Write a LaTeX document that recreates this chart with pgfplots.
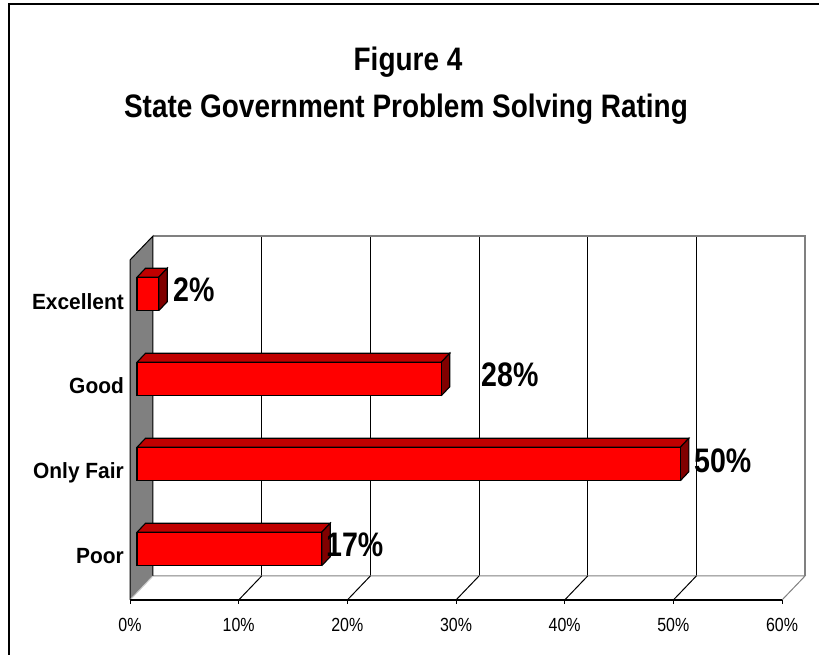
\documentclass[border=0pt]{standalone}
\usepackage{pgfplots}
\pgfplotsset{compat=1.18}
\usepackage{fontspec}
\setmainfont{Liberation Sans}
\newfontfamily\titlefont[FakeStretch=0.86]{Liberation Sans}
\newfontfamily\datafont[FakeStretch=0.84]{Liberation Sans}
\newfontfamily\tickfont[FakeStretch=0.84]{Liberation Sans}
\newfontfamily\catfont[FakeStretch=0.95]{Liberation Sans}
\definecolor{barfront}{RGB}{255,0,0}
\definecolor{bartop}{RGB}{192,0,0}
\definecolor{barside}{RGB}{128,0,0}
\definecolor{wallgray}{RGB}{128,128,128}
\begin{document}
\begin{tikzpicture}
\begin{axis}[
  at={(0,0)}, anchor=south west,
  scale only axis, width=819pt, height=655pt,
  xmin=-12.6073, xmax=62.7607, ymin=0, ymax=655,
  axis lines=none, clip=false,
]
% back wall
\fill[white] (axis cs:1.472,79) rectangle (axis cs:61.472,419);
\foreach \k in {1,...,5} {
  \edef\temp{\noexpand\draw[black, line width=1pt] (axis cs:1.472+\k*10,79) -- (axis cs:1.472+\k*10,419);}
  \temp
}
\draw[wallgray, line width=1.2pt] (axis cs:1.472,419) -- (axis cs:61.472,419) -- (axis cs:61.472,79);
% floor
\draw[wallgray, line width=1pt] (axis cs:1.472,79) -- (axis cs:61.472,79) -- (axis cs:59.356,55);
\foreach \k in {1,...,5} {
  \edef\temp{\noexpand\draw[black, line width=1pt] (axis cs:-0.644+\k*10,55) -- (axis cs:1.472+\k*10,79);}
  \temp
}
% left wall
\filldraw[fill=wallgray, draw=black, line width=1pt] (axis cs:-0.644,55) -- (axis cs:-0.644,395) -- (axis cs:1.472,419) -- (axis cs:1.472,79);
\draw[black!20, line width=1pt] (axis cs:-0.644,55) -- (axis cs:1.472,79);
% front axis line with ticks
\draw[black, line width=1.3pt] (axis cs:-0.644,55) -- (axis cs:59.356,55);
\foreach \k in {0,...,6} {
  \pgfmathtruncatemacro\lab{\k*10}
  \edef\temp{\noexpand\draw[black, line width=1pt] (axis cs:-0.644+\k*10,55) -- (axis cs:-0.644+\k*10,51);
  \noexpand\node[anchor=base, inner sep=0pt, font=\noexpand\tickfont\noexpand\fontsize{19}{22}\noexpand\selectfont] at (axis cs:-0.644+\k*10,23.3) {\lab\noexpand\%};}
  \temp
}
% bars: top faces
\addplot[fill=bartop, draw=black, line width=1.1pt] coordinates {(0,122.75) (17,122.75) (17.782,131.75) (0.782,131.75) (0,122.75)};
\addplot[fill=bartop, draw=black, line width=1.1pt] coordinates {(0,207.75) (50,207.75) (50.782,216.75) (0.782,216.75) (0,207.75)};
\addplot[fill=bartop, draw=black, line width=1.1pt] coordinates {(0,292.75) (28,292.75) (28.782,301.75) (0.782,301.75) (0,292.75)};
\addplot[fill=bartop, draw=black, line width=1.1pt] coordinates {(0,377.75) (2,377.75) (2.782,386.75) (0.782,386.75) (0,377.75)};
% bars: side faces
\addplot[fill=barside, draw=black, line width=1.1pt] coordinates {(17,89.25) (17,122.75) (17.782,131.75) (17.782,98.25) (17,89.25)};
\addplot[fill=barside, draw=black, line width=1.1pt] coordinates {(50,174.25) (50,207.75) (50.782,216.75) (50.782,183.25) (50,174.25)};
\addplot[fill=barside, draw=black, line width=1.1pt] coordinates {(28,259.25) (28,292.75) (28.782,301.75) (28.782,268.25) (28,259.25)};
\addplot[fill=barside, draw=black, line width=1.1pt] coordinates {(2,344.25) (2,377.75) (2.782,386.75) (2.782,353.25) (2,344.25)};
% bars: front faces
\addplot[xbar, bar width=33.5, fill=barfront, draw=black, line width=1.1pt] coordinates {(17,106) (50,191) (28,276) (2,361)};
% data labels
\node[anchor=base west, inner sep=0pt, font=\datafont\bfseries\fontsize{34}{40}\selectfont] at (axis cs:3.31,353.3) {2\%};
\node[anchor=base west, inner sep=0pt, font=\datafont\bfseries\fontsize{34}{40}\selectfont] at (axis cs:31.66,268.3) {28\%};
\node[anchor=base west, inner sep=0pt, font=\datafont\bfseries\fontsize{34}{40}\selectfont] at (axis cs:51.26,182.3) {50\%};
\node[anchor=base west, inner sep=0pt, font=\datafont\bfseries\fontsize{34}{40}\selectfont] at (axis cs:17.39,98.3) {17\%};
% category labels
\node[anchor=base east, inner sep=0pt, font=\catfont\bfseries\fontsize{22}{26}\selectfont] at (axis cs:-1.196,345.7) {Excellent};
\node[anchor=base east, inner sep=0pt, font=\catfont\bfseries\fontsize{22}{26}\selectfont] at (axis cs:-1.196,261) {Good};
\node[anchor=base east, inner sep=0pt, font=\catfont\bfseries\fontsize{22}{26}\selectfont] at (axis cs:-1.196,176) {Only Fair};
\node[anchor=base east, inner sep=0pt, font=\catfont\bfseries\fontsize{22}{26}\selectfont] at (axis cs:-1.196,91) {Poor};
% title
\node[anchor=base, inner sep=0pt, font=\titlefont\bfseries\fontsize{32.5}{38}\selectfont] at (axis cs:24.94,584.3) {Figure 4};
\node[anchor=base, inner sep=0pt, font=\titlefont\bfseries\fontsize{32.5}{38}\selectfont] at (axis cs:24.75,537.7) {State Government Problem Solving Rating};
% outer frame
\draw[black, line width=2pt] (axis cs:-11.779,-5) -- (axis cs:-11.779,651) -- (axis cs:65,651);
\end{axis}
\pgfresetboundingbox
\path (0,0) rectangle (819pt,655pt);
\end{tikzpicture}
\end{document}
